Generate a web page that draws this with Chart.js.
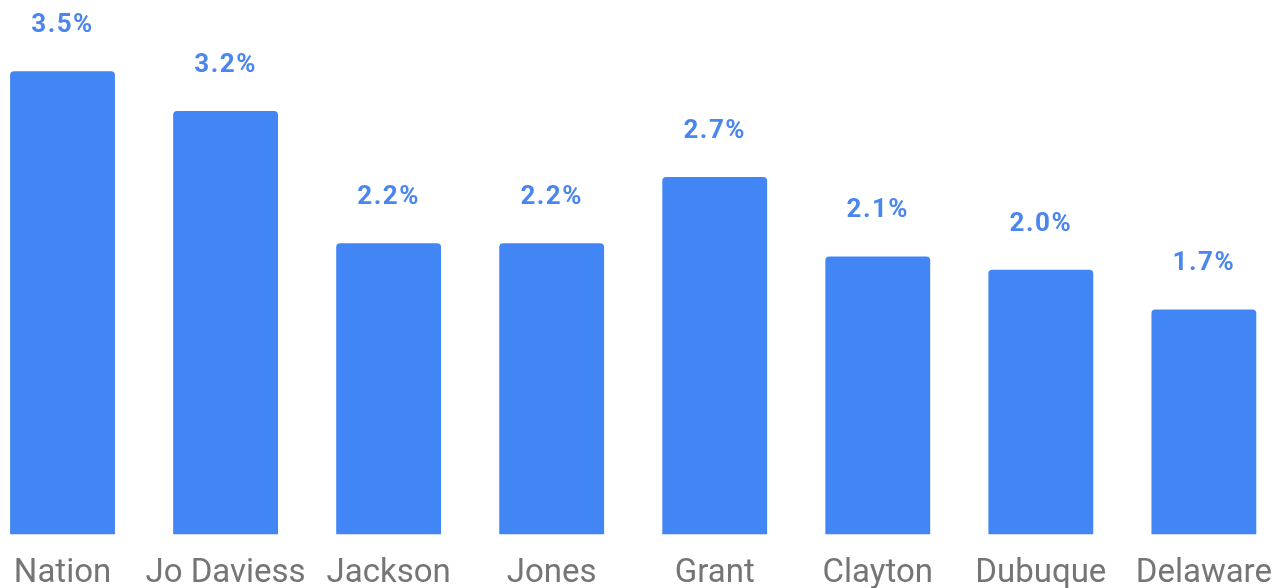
<!doctype html>
<html lang="en">
<head>
    <meta charset="utf-8">
    <title>Chart</title>
    <script src="https://cdn.jsdelivr.net/npm/chart.js@4.4.1/dist/chart.umd.min.js"></script>
    <style>
      html, body { margin: 0; padding: 0; background: #fff; overflow: hidden; }
      #chartContainer { position: absolute; left: -19px; top: 0; width: 1311px; height: 614px; }
    </style>
</head>
<body>
    <div id="chartContainer"><canvas id="myChart"></canvas></div>
    <script type="text/javascript">
      const categories = ['Nation', 'Jo Daviess', 'Jackson', 'Jones', 'Grant', 'Clayton', 'Dubuque', 'Delaware'];
      const values = [3.5, 3.2, 2.2, 2.2, 2.7, 2.1, 2.0, 1.7];
      const valueLabels = ['3.5%', '3.2%', '2.2%', '2.2%', '2.7%', '2.1%', '2.0%', '1.7%'];

      // 막대 위에 값 표시
      const valueLabelPlugin = {
        id: 'valueLabels',
        afterDatasetsDraw(chart) {
          const ctx = chart.ctx;
          const meta = chart.getDatasetMeta(0);
          ctx.save();
          ctx.font = 'bold 26px Roboto';
          ctx.letterSpacing = '1.5px';
          ctx.fillStyle = '#4a86ee';
          ctx.textAlign = 'center';
          ctx.textBaseline = 'alphabetic';
          meta.data.forEach((bar, i) => {
            ctx.fillText(valueLabels[i], bar.x, bar.y - 39);
          });
          ctx.restore();
        }
      };

      new Chart(document.getElementById('myChart'), {
        type: 'bar',
        data: {
          labels: categories,
          datasets: [{
            data: values,
            backgroundColor: '#4285f4',
            borderRadius: 4,
            borderSkipped: 'bottom',
            categoryPercentage: 1,
            barPercentage: 0.643
          }]
        },
        options: {
          maintainAspectRatio: false,
          animation: false,
          layout: { padding: { top: 5, bottom: 0 } },
          plugins: {
            legend: { display: false },
            tooltip: { enabled: false }
          },
          scales: {
            x: {
              grid: { display: false, drawTicks: false },
              border: { display: false },
              ticks: {
                color: '#757575',
                padding: 20,
                font: { family: 'Roboto', size: 33 },
                maxRotation: 0,
                autoSkip: false
              }
            },
            y: {
              display: false,
              min: 0,
              max: 4
            }
          }
        },
        plugins: [valueLabelPlugin]
      });
    </script>
</body>
</html>
